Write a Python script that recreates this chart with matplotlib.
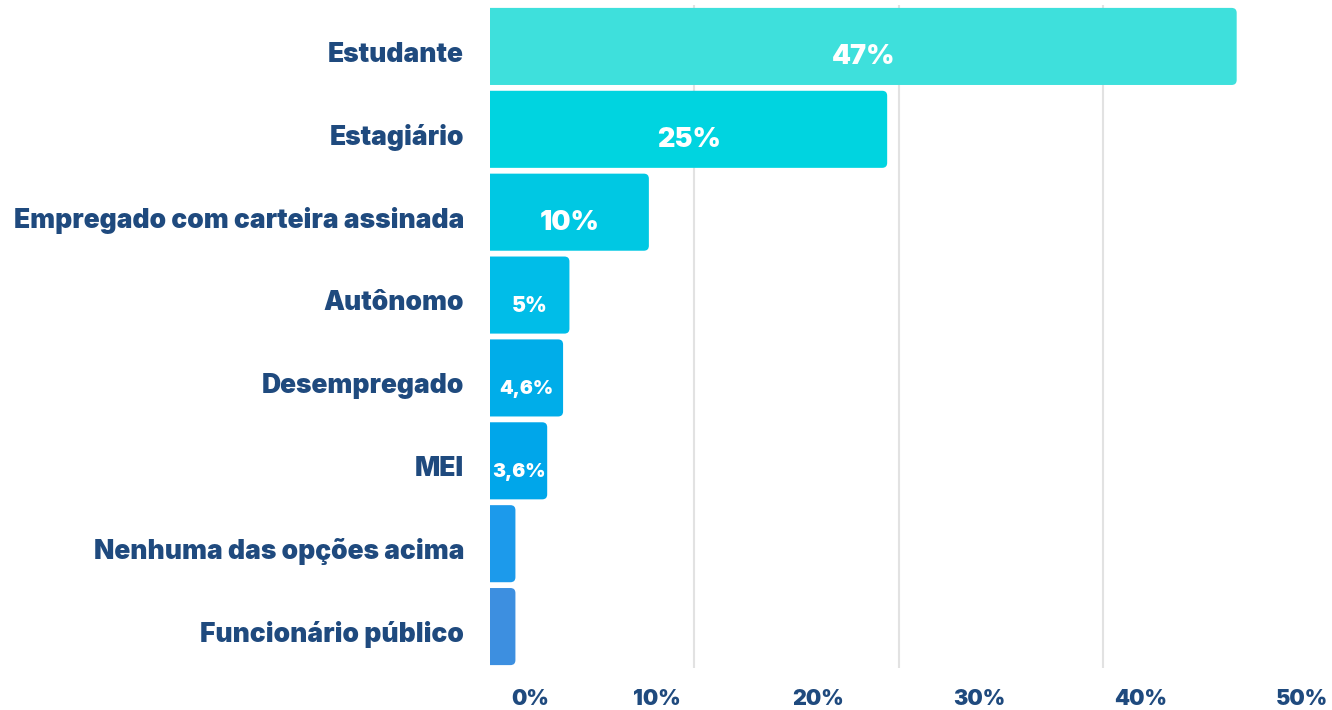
import matplotlib
matplotlib.use('Agg')
import matplotlib.pyplot as plt
from matplotlib.patches import FancyBboxPatch
from matplotlib.transforms import ScaledTranslation
import numpy as np

# ---- data ----
categories = ["Estudante", "Estagiário", "Empregado com carteira assinada", "Autônomo",
              "Desempregado", "MEI", "Nenhuma das opções acima", "Funcionário público"]
values = [47, 25, 10, 5, 4.6, 3.6, 1.6, 1.6]
value_labels = ["47%", "25%", "10%", "5%", "4,6%", "3,6%", "", ""]
tick_values = [0, 10, 20, 30, 40, 50]
tick_labels = ["0%", "10%", "20%", "30%", "40%", "50%"]

# ---- style ----
colors = ["#3EE0DC", "#00D4E0", "#00C8E3", "#00BDE8", "#00ADE9", "#00A6EA", "#1C9AEB", "#3D8FE0"]
label_sizes = [19.5, 19.5, 19.5, 15, 14, 14, 14, 14]
NAVY = "#1F4A7E"
FONT = ['Inter', 'DejaVu Sans']
plt.rcParams['font.family'] = FONT

W, H = 1332, 710
fig = plt.figure(figsize=(W / 100, H / 100), dpi=100)
ax_left, ax_bottom, ax_top = 490, 668, 5
ax = fig.add_axes([ax_left / W, 1 - ax_bottom / H, 1 - ax_left / W, (ax_bottom - ax_top) / H])

y = np.arange(len(categories))
xmax = 53.0
ax.set_xlim(0, xmax)
ax.set_ylim(len(categories) - 0.5, -0.5)

bars = ax.barh(y, values, height=0.93, color=colors)

# convert to rounded bars
ax_w_px = W - ax_left
ax_h_px = ax_bottom - ax_top
x_per_px = xmax / ax_w_px
y_per_px = len(categories) / ax_h_px
r_px = 5
for rect, c in zip(bars, colors):
    rect.set_visible(False)
    x0, y0 = rect.get_x(), rect.get_y()
    w, h = rect.get_width(), rect.get_height()
    p = FancyBboxPatch((x0 - 1.0, y0), w + 1.0, h,
                       boxstyle=f"round,pad=0,rounding_size={r_px * x_per_px}",
                       mutation_aspect=y_per_px / x_per_px,
                       facecolor=c, edgecolor='none', zorder=2)
    ax.add_patch(p)

# gridlines
for gx in np.arange(1, 4) * 12.87:
    ax.axvline(gx, color='#E2E2E2', lw=1.5, zorder=0)

for s in ax.spines.values():
    s.set_visible(False)
ax.set_yticks([])
ax.set_xticks([])

# category labels
for i, cat in enumerate(categories):
    ax.text(-26 * x_per_px, i + 0.1, cat, ha='right', va='center', color=NAVY,
            fontsize=19, fontweight='black', clip_on=False)

# value labels
for i, (v, lab, fs) in enumerate(zip(values, value_labels, label_sizes)):
    if lab:
        ax.text(v / 2, i + 0.13, lab, ha='center', va='center', color='white',
                fontsize=fs, fontweight='black', zorder=3)

# bottom tick labels (secondary scale)
a, b = 0.343, 1.0157
sec = ax.secondary_xaxis('bottom', functions=(lambda x: (x - a) / b, lambda s: s * b + a))
sec.set_xticks(tick_values)
sec.set_xticklabels(tick_labels, color=NAVY, fontsize=15.5, fontweight='black')
sec.tick_params(length=0, pad=15)
sec.spines['bottom'].set_visible(False)
lbls = sec.get_xticklabels()
lbls[0].set_transform(lbls[0].get_transform() + ScaledTranslation(0.35, 0, fig.dpi_scale_trans))

fig.savefig('out.png', dpi=100)
